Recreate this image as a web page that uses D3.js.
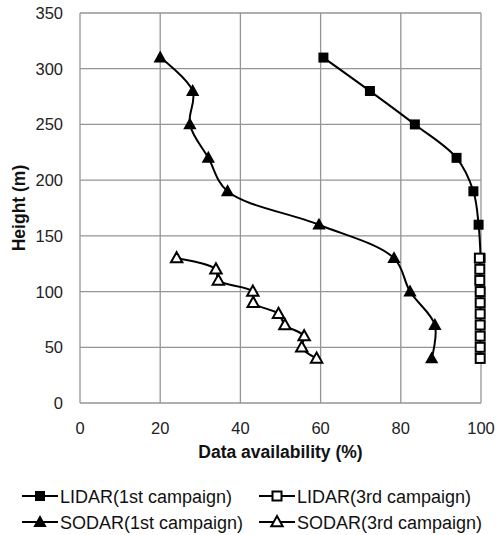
<!DOCTYPE html>
<html>
<head>
<meta charset="utf-8">
<script src="https://cdn.jsdelivr.net/npm/d3@7"></script>
<style>
  body { margin: 0; background: #fff; }
  svg { display: block; font-family: 'Liberation Sans', Arial, sans-serif; }
</style>
</head>
<body>
<div id="chart"></div>
<script>
const width = 496
const height = 535
const margin = { top: 13, right: 15, bottom: 132, left: 80 }

// heights (m)
const lidar1Heights = [310, 280, 250, 220, 190, 160, 130]
const lidar1Values = [60.7, 72.3, 83.5, 93.9, 98.1, 99.4, 99.9]
const lidar3Heights = [130, 120, 110, 100, 90, 80, 70, 60, 50, 40]
const lidar3Values = [99.6, 99.7, 99.7, 99.8, 99.8, 99.8, 99.8, 99.8, 99.8, 99.8]
const sodar1Heights = [310, 280, 250, 220, 190, 160, 130, 100, 70, 40]
const sodar1Values = [20, 28.1, 27.4, 32, 36.8, 59.6, 78.3, 82.3, 88.5, 87.7]
const sodar3Heights = [130, 120, 110, 100, 90, 80, 70, 60, 50, 40]
const sodar3Values = [24.1, 33.9, 34.5, 43.1, 43.2, 49.5, 51.1, 55.9, 55.3, 59]

const xTicks = [0, 20, 40, 60, 80, 100]
const yTicks = [0, 50, 100, 150, 200, 250, 300, 350]

const series = [
  { name: 'LIDAR(1st campaign)', h: lidar1Heights, v: lidar1Values, shape: 'square', fill: true },
  { name: 'LIDAR(3rd campaign)', h: lidar3Heights, v: lidar3Values, shape: 'square', fill: false },
  { name: 'SODAR(1st campaign)', h: sodar1Heights, v: sodar1Values, shape: 'triangle', fill: true },
  { name: 'SODAR(3rd campaign)', h: sodar3Heights, v: sodar3Values, shape: 'triangle', fill: false },
]

const x = d3.scaleLinear().domain([0, 100]).range([margin.left, width - margin.right])
const y = d3.scaleLinear().domain([0, 350]).range([height - margin.bottom, margin.top])

const svg = d3.select('#chart').append('svg')
  .attr('width', width)
  .attr('height', height)

const grid = '#959595'

// grid
svg.append('g')
  .selectAll('line.v')
  .data(xTicks)
  .join('line')
  .attr('x1', d => x(d)).attr('x2', d => x(d))
  .attr('y1', y(0)).attr('y2', y(350))
  .attr('stroke', grid).attr('stroke-width', 1.3)

svg.append('g')
  .selectAll('line.h')
  .data(yTicks)
  .join('line')
  .attr('x1', x(0)).attr('x2', x(100))
  .attr('y1', d => y(d)).attr('y2', d => y(d))
  .attr('stroke', grid).attr('stroke-width', 1.3)

// tick labels
svg.append('g')
  .selectAll('text')
  .data(xTicks)
  .join('text')
  .attr('x', d => x(d))
  .attr('y', y(0) + 31)
  .attr('text-anchor', 'middle')
  .attr('font-size', 16.5)
  .attr('fill', '#222')
  .text(d => d)

svg.append('g')
  .selectAll('text')
  .data(yTicks)
  .join('text')
  .attr('x', margin.left - 17)
  .attr('y', d => y(d) + 6)
  .attr('text-anchor', 'end')
  .attr('font-size', 16.5)
  .attr('fill', '#222')
  .text(d => d)

// axis titles
svg.append('text')
  .attr('x', (x(0) + x(100)) / 2)
  .attr('y', y(0) + 55)
  .attr('text-anchor', 'middle')
  .attr('font-size', 17.5)
  .attr('font-weight', 'bold')
  .attr('fill', '#111')
  .text('Data availability (%)')

svg.append('text')
  .attr('transform', `translate(25,${(y(0) + y(350)) / 2}) rotate(-90)`)
  .attr('text-anchor', 'middle')
  .attr('font-size', 17.5)
  .attr('font-weight', 'bold')
  .attr('fill', '#111')
  .text('Height (m)')

const symbol = (g, s) => {
  if (s.shape === 'square') {
    const size = s.fill ? 10 : 9
    g.append('rect')
      .attr('x', -size / 2).attr('y', -size / 2)
      .attr('width', size).attr('height', size)
      .attr('fill', s.fill ? '#000' : '#fff')
      .attr('stroke', '#000')
      .attr('stroke-width', s.fill ? 0 : 2)
  } else {
    const r = s.fill ? 7 : 6
    g.append('path')
      .attr('d', `M0,${-r} L${r * 0.95},${r * 0.7} L${-r * 0.95},${r * 0.7} Z`)
      .attr('fill', s.fill ? '#000' : '#fff')
      .attr('stroke', '#000')
      .attr('stroke-width', s.fill ? 0 : 2)
      .attr('stroke-linejoin', 'miter')
  }
}

const line = d3.line()
  .x(d => x(d[1]))
  .y(d => y(d[0]))
  .curve(d3.curveCatmullRom.alpha(0.5))

// draw in order so open markers cover filled ones
const order = [2, 0, 3, 1]
order.forEach(i => {
  const s = series[i]
  const pts = s.h.map((h, j) => [h, s.v[j]])
  svg.append('path')
    .datum(pts)
    .attr('d', line)
    .attr('fill', 'none')
    .attr('stroke', '#000')
    .attr('stroke-width', 2)
  pts.forEach(p => {
    const g = svg.append('g').attr('transform', `translate(${x(p[1])},${y(p[0])})`)
    symbol(g, s)
  })
})

// legend
const legendCols = [22, 259]
const legendRows = [496, 522]
series.forEach((s, i) => {
  const lx = legendCols[i % 2]
  const ly = legendRows[Math.floor(i / 2)]
  const g = svg.append('g').attr('transform', `translate(${lx},${ly})`)
  g.append('line')
    .attr('x1', 0).attr('x2', 36)
    .attr('stroke', '#000').attr('stroke-width', 2)
  symbol(g.append('g').attr('transform', 'translate(18,0)'), s)
  g.append('text')
    .attr('x', 38)
    .attr('y', 6.5)
    .attr('font-size', 18)
    .attr('fill', '#111')
    .text(s.name)
})
</script>
</body>
</html>
